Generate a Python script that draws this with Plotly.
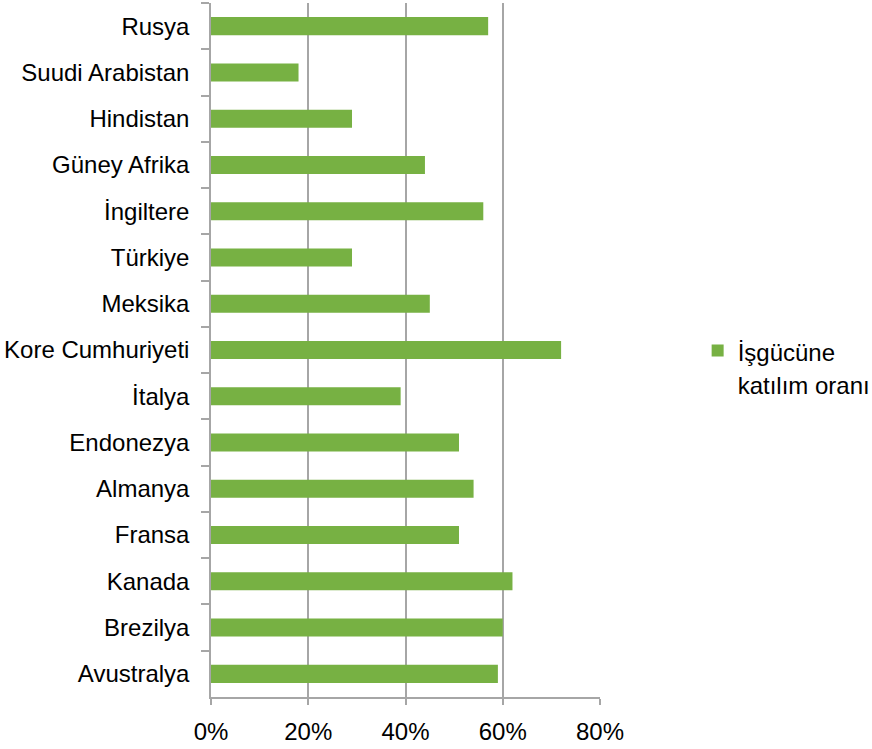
import plotly.graph_objects as go

# Labour force participation by country (top to bottom as displayed)
countries = [
    "Rusya", "Suudi Arabistan", "Hindistan", "Güney Afrika", "İngiltere",
    "Türkiye", "Meksika", "Kore Cumhuriyeti", "İtalya", "Endonezya",
    "Almanya", "Fransa", "Kanada", "Brezilya", "Avustralya",
]
participation = [57, 18, 29, 44, 56, 29, 45, 72, 39, 51, 54, 51, 62, 60, 59]

x_ticks = [0, 0.2, 0.4, 0.6, 0.8]
x_tick_labels = ["0%", "20%", "40%", "60%", "80%"]

green = "#77b143"
grid = "#a6a6a6"
font_family = "Liberation Sans, Arial, sans-serif"

fig = go.Figure(
    go.Bar(
        y=countries,
        x=[v / 100 for v in participation],
        orientation="h",
        marker=dict(color=green, line=dict(width=0)),
        name="<span style='font-size:24px'>İşgücüne<br>katılım oranı</span>",
        showlegend=True,
    )
)

fig.update_layout(
    width=872,
    height=749,
    margin=dict(l=211, r=272, t=3, b=52, autoexpand=False),
    paper_bgcolor="white",
    plot_bgcolor="white",
    bargap=0.61,
    font=dict(family=font_family, size=24, color="black"),
    legend=dict(
        x=1.251,
        y=0.533,
        xanchor="left",
        yanchor="top",
        valign="top",
        font=dict(size=26, family=font_family),
        bgcolor="rgba(0,0,0,0)",
    ),
)

fig.update_xaxes(
    range=[0, 0.8],
    tickvals=x_ticks,
    ticktext=x_tick_labels,
    showgrid=True,
    gridcolor=grid,
    gridwidth=1.5,
    zeroline=False,
    showline=True,
    linecolor=grid,
    linewidth=1.5,
    ticks="outside",
    ticklen=6,
    tickcolor=grid,
    tickwidth=1.5,
    tickfont=dict(size=24),
    ticklabelstandoff=6,
)

fig.update_yaxes(
    autorange="reversed",
    type="category",
    tickson="boundaries",
    showgrid=False,
    showline=True,
    linecolor=grid,
    linewidth=1.5,
    ticks="outside",
    ticklen=8,
    tickcolor=grid,
    tickwidth=1.5,
    tickfont=dict(size=24),
    ticklabelstandoff=15,
)

fig.write_html("out.html")
